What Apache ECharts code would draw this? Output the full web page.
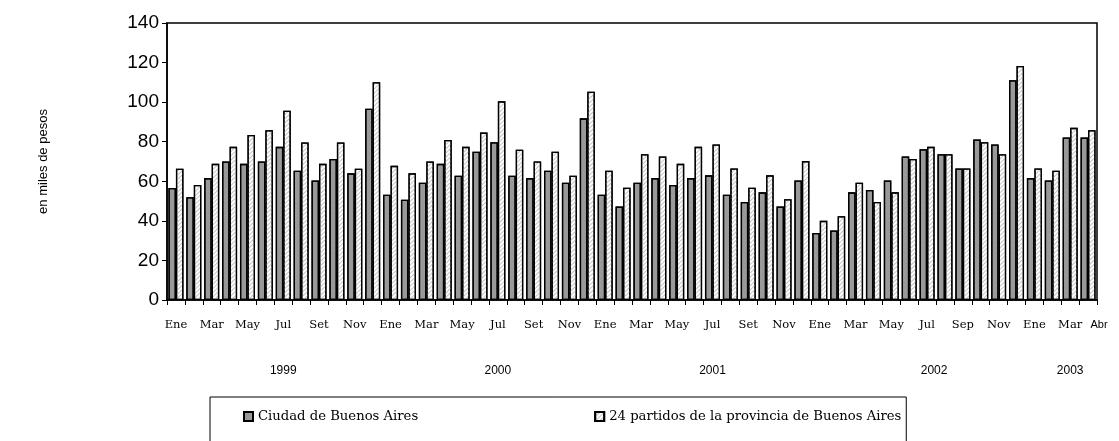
<!DOCTYPE html>
<html>
<head>
<meta charset="utf-8">
<script src="https://cdn.jsdelivr.net/npm/echarts@6/dist/echarts.min.js"></script>
<style>
  html, body { margin: 0; padding: 0; background: #fff; }
  #chart { width: 1119px; height: 441px; }
</style>
</head>
<body>
<div id="chart"></div>
<script>
// meses desde Ene 1999 hasta Abr 2003
var months = [
  '1999-01','1999-02','1999-03','1999-04','1999-05','1999-06','1999-07','1999-08','1999-09','1999-10','1999-11','1999-12',
  '2000-01','2000-02','2000-03','2000-04','2000-05','2000-06','2000-07','2000-08','2000-09','2000-10','2000-11','2000-12',
  '2001-01','2001-02','2001-03','2001-04','2001-05','2001-06','2001-07','2001-08','2001-09','2001-10','2001-11','2001-12',
  '2002-01','2002-02','2002-03','2002-04','2002-05','2002-06','2002-07','2002-08','2002-09','2002-10','2002-11','2002-12',
  '2003-01','2003-02','2003-03','2003-04'
];

// etiquetas del eje (cada dos meses)
var monthLabels = [
  'Ene','','Mar','','May','','Jul','','Set','','Nov','',
  'Ene','','Mar','','May','','Jul','','Set','','Nov','',
  'Ene','','Mar','','May','','Jul','','Set','','Nov','',
  'Ene','','Mar','','May','','Jul','','Sep','','Nov','',
  'Ene','','Mar','Abr'
];

var years = ['1999', '2000', '2001', '2002', '2003'];
var yearIndex = [6, 18, 30, 42, 50];

var ciudad = [
  56.6, 51.9, 61.6, 70.0, 68.8, 70.0, 77.4, 65.3, 60.4, 71.3, 64.0, 96.7,
  53.2, 50.7, 59.3, 68.8, 62.8, 74.9, 79.7, 62.8, 61.6, 65.3, 59.3, 91.8,
  53.2, 47.2, 59.3, 61.6, 58.1, 61.6, 63.0, 53.2, 49.5, 54.4, 47.2, 60.4,
  33.9, 35.1, 54.4, 55.6, 60.4, 72.5, 76.2, 73.7, 66.5, 81.1, 78.6, 111.1,
  61.6, 60.4, 82.1, 82.1
];

var partidos = [
  66.3, 58.1, 68.8, 77.4, 83.4, 85.8, 95.7, 79.6, 68.8, 79.6, 66.3, 110.1,
  67.8, 64.0, 70.0, 80.9, 77.4, 84.6, 100.4, 76.0, 70.0, 74.9, 62.8, 105.3,
  65.3, 56.7, 73.7, 72.5, 68.8, 77.4, 78.6, 66.5, 56.7, 63.0, 50.9, 70.2,
  40.0, 42.3, 59.3, 49.5, 54.4, 71.3, 77.4, 73.7, 66.5, 79.7, 73.7, 118.3,
  66.5, 65.3, 87.0, 85.8
];

var yTicks = [0, 20, 40, 60, 80, 100, 120, 140];

var chart = echarts.init(document.getElementById('chart'));

var option = {
  animation: false,
  backgroundColor: '#fff',
  grid: {
    left: 167,
    right: 22,
    top: 23,
    bottom: 141,
    show: true,
    borderColor: '#000',
    borderWidth: 1.5
  },
  legend: {
    left: 210,
    top: 397,
    orient: 'horizontal',
    icon: 'rect',
    itemWidth: 9,
    itemHeight: 9,
    itemGap: 176,
    borderColor: '#000',
    borderWidth: 1,
    padding: [13, 5, 22, 33],
    textStyle: { fontFamily: 'DejaVu Serif', fontSize: 13.2, color: '#000' },
    data: ['Ciudad de Buenos Aires', '24 partidos de la provincia de Buenos Aires']
  },
  xAxis: [{
    type: 'category',
    data: months,
    position: 'bottom',
    axisLine: { lineStyle: { color: '#000', width: 1.5 } },
    axisTick: { show: true, interval: 0, length: 5, lineStyle: { color: '#000' } },
    axisLabel: {
      interval: 0,
      margin: 19,
      fontFamily: 'DejaVu Serif',
      fontSize: 11.5,
      color: '#000',
      formatter: function (v, i) {
        var t = monthLabels[i];
        if (t === 'Abr') return '{abr|Abr}';
        return t;
      },
      rich: {
        abr: { fontFamily: 'Liberation Sans', fontSize: 11, color: '#000', padding: [0, 0, 0, 22] }
      }
    }
  }, {
    type: 'category',
    data: months,
    position: 'bottom',
    offset: 57,
    axisLine: { show: false },
    axisTick: { show: false },
    axisLabel: {
      interval: 0,
      fontFamily: 'Liberation Sans',
      fontSize: 12,
      color: '#000',
      formatter: function (v, i) {
        var k = yearIndex.indexOf(i);
        if (k < 0) return '';
        return k === 3 ? '{s|' + years[k] + '}' : years[k];
      },
      rich: {
        s: { fontFamily: 'Liberation Sans', fontSize: 12, color: '#000', padding: [0, 0, 0, 14] }
      }
    }
  }],
  yAxis: {
    type: 'value',
    min: yTicks[0],
    max: yTicks[yTicks.length - 1],
    interval: 20,
    name: 'en miles de pesos',
    nameLocation: 'middle',
    nameRotate: 90,
    nameGap: 117,
    nameTextStyle: { fontFamily: 'Liberation Sans', fontSize: 13, color: '#000' },
    axisLine: { show: true, lineStyle: { color: '#000', width: 1.5 } },
    axisTick: { show: true, length: 5, lineStyle: { color: '#000' } },
    splitLine: { show: false },
    axisLabel: { fontFamily: 'Liberation Sans', fontSize: 19, color: '#000', margin: 8 }
  },
  series: [{
    name: 'Ciudad de Buenos Aires',
    type: 'bar',
    data: ciudad,
    barGap: '0%',
    barCategoryGap: '16%',
    itemStyle: {
      color: '#999999',
      borderColor: '#000',
      borderWidth: 1.3,
      decal: {
        symbol: 'circle',
        symbolSize: 0.6,
        color: 'rgba(210,210,210,0.7)',
        dashArrayX: [[1, 4]],
        dashArrayY: [1, 4]
      }
    }
  }, {
    name: '24 partidos de la provincia de Buenos Aires',
    type: 'bar',
    data: partidos,
    barGap: '0%',
    barCategoryGap: '16%',
    itemStyle: {
      color: '#ffffff',
      borderColor: '#000',
      borderWidth: 1.3,
      decal: {
        symbol: 'rect',
        color: '#c4c4c4',
        dashArrayX: [1, 0],
        dashArrayY: [1, 2],
        rotation: -Math.PI / 4
      }
    }
  }]
};

chart.setOption(option);
window.addEventListener('resize', function () {
  chart.resize();
});
</script>
</body>
</html>
